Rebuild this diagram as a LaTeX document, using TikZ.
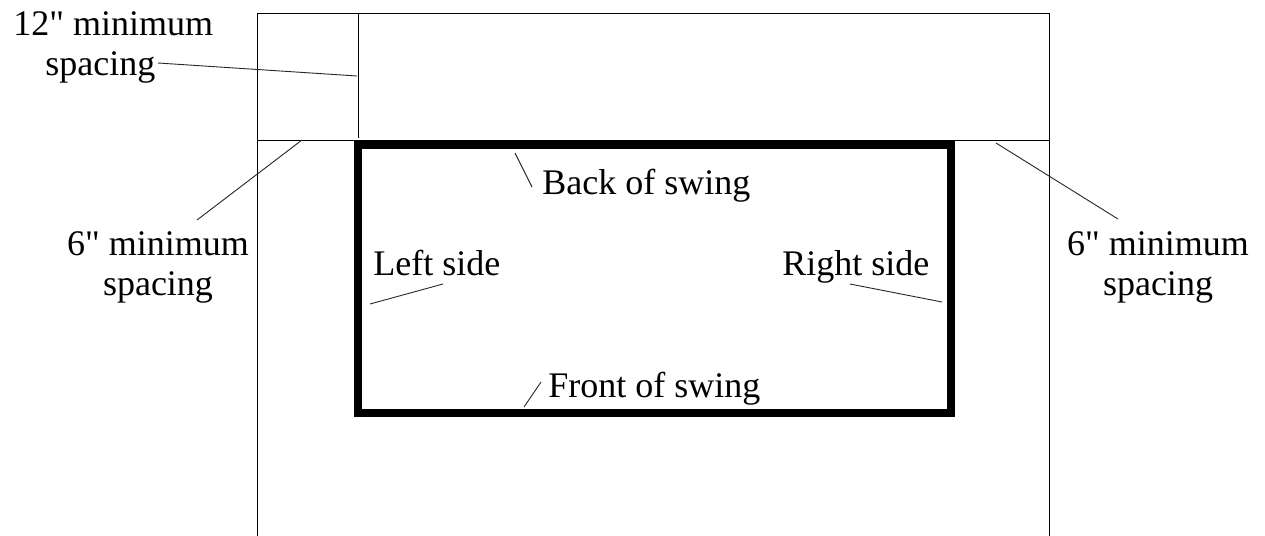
\documentclass[tikz,border=0pt]{standalone}
\usepackage{fontspec}
\setmainfont{Liberation Serif}
\begin{document}
\begin{tikzpicture}[x=0.5pt,y=-0.5pt,
  thinline/.style={line width=0.5pt,black},
  leader/.style={line width=0.45pt,black!85},
  swing/.style={line width=4pt,black,line join=miter},
  lbl/.style={inner sep=0pt,font=\fontsize{18}{20}\selectfont,anchor=base west},
  mlbl/.style={inner sep=0pt,font=\fontsize{18}{20}\selectfont,align=center,anchor=base}]
\useasboundingbox (0,0) rectangle (1265,536);
% area outline
\draw[thinline] (257,536) -- (257,13) -- (1049,13) -- (1049,536);
\draw[thinline] (257,140) -- (1049,140);
\draw[thinline] (358,13) -- (358,138);
% swing
\draw[swing] (358,145) rectangle (951,413);
% labels (base anchor = baseline of last line)
\node[mlbl,align=left,anchor=base west] (twelve) at (13,75) {12\textquotedbl{} minimum\\\hspace*{16pt}spacing};
\node[mlbl] (sixl) at (158,295) {6\textquotedbl{} minimum\\spacing};
\node[mlbl] (sixr) at (1158,295) {6\textquotedbl{} minimum\\spacing};
\node[lbl] (back) at (542,194) {Back of swing};
\node[lbl] (left) at (373,275) {Left side};
\node[lbl] (right) at (782,275) {Right side};
\node[lbl] (front) at (548,397) {Front of swing};
% leader ends
\coordinate (twelveA) at (158,63);  \coordinate (twelveB) at (357,76);
\coordinate (sixlA) at (197,220);   \coordinate (sixlB) at (302,140);
\coordinate (sixrA) at (1118,219);  \coordinate (sixrB) at (996,143);
\coordinate (backA) at (532,187);   \coordinate (backB) at (515,153);
\coordinate (leftA) at (443,284);   \coordinate (leftB) at (370,304);
\coordinate (rightA) at (850,284);  \coordinate (rightB) at (942,302);
\coordinate (frontA) at (541,382);  \coordinate (frontB) at (524,407);
\draw[leader] (twelveA) -- (twelveB);
\draw[leader] (sixlA) -- (sixlB);
\draw[leader] (sixrA) -- (sixrB);
\draw[leader] (backA) -- (backB);
\draw[leader] (leftA) -- (leftB);
\draw[leader] (rightA) -- (rightB);
\draw[leader] (frontA) -- (frontB);
\end{tikzpicture}
\end{document}
